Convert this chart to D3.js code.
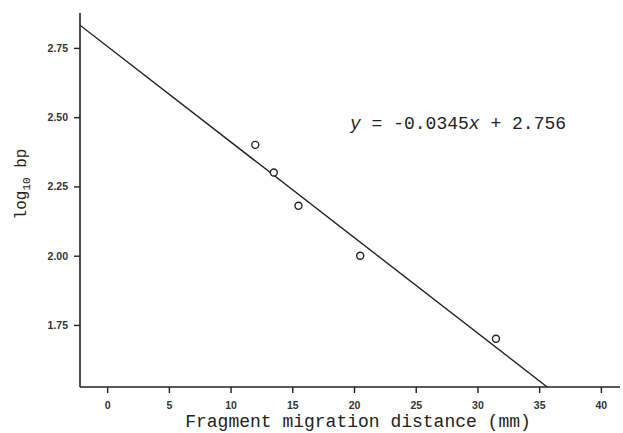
<!DOCTYPE html>
<html>
<head>
<meta charset="utf-8">
<script src="https://cdn.jsdelivr.net/npm/d3@7"></script>
<style>
  body { margin: 0; background: #fff; }
  .tick text { font-family: Arial, "Liberation Sans", sans-serif; font-weight: bold; font-size: 10.5px; fill: #333; }
</style>
</head>
<body>
<div id="chart"></div>
<script>
// data
var distances = [12, 13.5, 15.5, 20.5, 31.5];
var logBp = [2.40, 2.30, 2.18, 2.00, 1.70];
var xTicks = [0, 5, 10, 15, 20, 25, 30, 35, 40];
var yTicks = [1.75, 2.00, 2.25, 2.50, 2.75];
var slope = -0.0345, intercept = 2.756;

var W = 623, H = 433;
var svg = d3.select("#chart").append("svg")
  .attr("width", W).attr("height", H);

var x = d3.scaleLinear().domain([-2.2, 41.55]).range([80, 620]);
var y = d3.scaleLinear().domain([1.526, 2.876]).range([387, 13]);

// X axis
var gx = svg.append("g")
  .attr("transform", "translate(0,387)")
  .call(d3.axisBottom(x).tickValues(xTicks).tickSize(6).tickPadding(9).tickFormat(d3.format("d")));
gx.select(".domain").attr("stroke", "#222").attr("stroke-width", 1.6).attr("d", "M80,0H620");
gx.selectAll(".tick line").attr("stroke", "#222").attr("stroke-width", 1.4);

// Y axis
var gy = svg.append("g")
  .attr("transform", "translate(80,0)")
  .call(d3.axisLeft(y).tickValues(yTicks).tickSize(6).tickPadding(6).tickFormat(d3.format(".2f")));
gy.select(".domain").attr("stroke", "#222").attr("stroke-width", 1.6).attr("d", "M0,13V387");
gy.selectAll(".tick line").attr("stroke", "#222").attr("stroke-width", 1.4);

// regression line, clipped to the plot area
svg.append("clipPath").attr("id", "plotClip")
  .append("rect").attr("x", 80).attr("y", 13).attr("width", 540).attr("height", 374);

var x0 = -2.2, x1 = (1.526 - intercept) / slope;
svg.append("line")
  .attr("clip-path", "url(#plotClip)")
  .attr("x1", x(x0)).attr("y1", y(slope * x0 + intercept))
  .attr("x2", x(x1)).attr("y2", y(slope * x1 + intercept))
  .attr("stroke", "#222").attr("stroke-width", 1.4);

// points
svg.selectAll("circle.pt")
  .data(distances)
  .enter()
  .append("circle")
  .attr("class", "pt")
  .attr("cx", function(d) { return x(d); })
  .attr("cy", function(d, i) { return y(logBp[i]); })
  .attr("r", 3.5)
  .attr("fill", "#fff")
  .attr("stroke", "#222")
  .attr("stroke-width", 1.4);

// equation
var eq = svg.append("text")
  .attr("x", 350).attr("y", 129)
  .attr("font-family", "'Liberation Mono', 'Courier New', monospace")
  .attr("font-size", 18).attr("fill", "#222");
eq.append("tspan").attr("font-style", "italic").text("y");
eq.append("tspan").text(" = -0.0345");
eq.append("tspan").attr("font-style", "italic").text("x");
eq.append("tspan").text(" + 2.756");

// axis titles
svg.append("text")
  .attr("x", 358).attr("y", 427)
  .attr("text-anchor", "middle")
  .attr("font-family", "'Liberation Mono', 'Courier New', monospace")
  .attr("font-size", 18).attr("fill", "#222")
  .text("Fragment migration distance (mm)");

var yl = svg.append("text")
  .attr("transform", "translate(26,184) rotate(-90)")
  .attr("text-anchor", "middle")
  .attr("font-family", "'Liberation Mono', 'Courier New', monospace")
  .attr("font-size", 16).attr("fill", "#222");
yl.append("tspan").text("log");
yl.append("tspan").attr("font-size", 11).attr("dy", 4).text("10");
yl.append("tspan").attr("dy", -4).text(" bp");
</script>
</body>
</html>
